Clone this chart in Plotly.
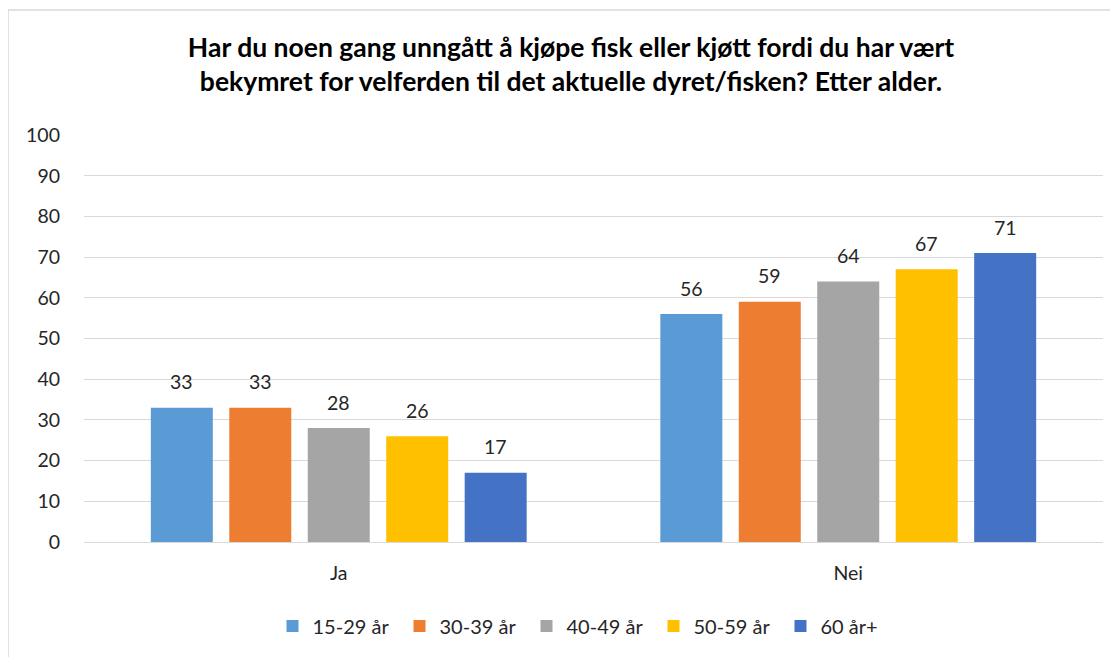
import plotly.graph_objects as go

categories = ["Ja", "Nei"]
series_names = ["15-29 år", "30-39 år", "40-49 år", "50-59 år", "60 år+"]
values_15_29 = [33, 56]
values_30_39 = [33, 59]
values_40_49 = [28, 64]
values_50_59 = [26, 67]
values_60_plus = [17, 71]
series_values = [values_15_29, values_30_39, values_40_49, values_50_59, values_60_plus]
colors = ["#5B9BD5", "#ED7D31", "#A5A5A5", "#FFC000", "#4472C4"]
y_ticks = [0, 10, 20, 30, 40, 50, 60, 70, 80, 90, 100]

title_line1 = "Har du noen gang unngått å kjøpe fisk eller kjøtt fordi du har vært"
title_line2 = "bekymret for velferden til det aktuelle dyret/fisken? Etter alder."

# page has an 8px body margin; figure coordinates = page - 8
OFF = 8
W, H = 1110, 649
ML, MR, MT, MB = 84 - OFF, 15, 135 - OFF, 115
BARGAP = 0.23
BARGROUPGAP = 0.21
FONT = "Lato"
TXT = "#262626"
GRID = "#d9d9d9"

fig = go.Figure()
for name, vals, col in zip(series_names, series_values, colors):
    fig.add_trace(go.Bar(
        name=name, x=categories, y=vals,
        marker=dict(color=col, line=dict(width=0)),
        hoverinfo="x+y+name",
    ))

plot_w = W - ML - MR
plot_h = H - MT - MB
slot = plot_w / len(categories) * (1 - BARGAP) / len(series_names)
annotations = []
n = len(series_names)
for i, vals in enumerate(series_values):
    for c, v in zip(categories, vals):
        annotations.append(dict(
            x=c, y=v, xref="x", yref="y", text=str(v), showarrow=False,
            xshift=(i - (n - 1) / 2) * slot, yshift=26, yanchor="middle",
            font=dict(family=FONT, size=19.5, color=TXT),
        ))

def px_to_paper_x(px):  # page px
    return (px - OFF - ML) / plot_w
def px_to_paper_y(py):  # page px
    return (H - MB - (py - OFF)) / plot_h

border_left = px_to_paper_x(8)
border_top = px_to_paper_y(10)
shapes = [
    dict(type="line", xref="paper", yref="paper", x0=border_left, x1=border_left,
         y0=px_to_paper_y(H + 20), y1=border_top, line=dict(color=GRID, width=1.5)),
    dict(type="line", xref="paper", yref="paper", x0=border_left, x1=px_to_paper_x(W + 20),
         y0=border_top, y1=border_top, line=dict(color=GRID, width=1.5)),
]

fig.update_layout(
    width=W, height=H,
    margin=dict(l=ML, r=MR, t=MT, b=MB),
    paper_bgcolor="white", plot_bgcolor="white",
    barmode="group", bargap=BARGAP, bargroupgap=BARGROUPGAP,
    title=dict(
        text="<b>" + title_line1 + "<br>" + title_line2 + "</b>",
        x=px_to_paper_x(571), xref="paper", xanchor="center",
        y=1 - 49 / H, yref="container", yanchor="middle",
        font=dict(family=FONT, size=26.5, color="#000000"),
    ),
    font=dict(family=FONT, size=19.5, color=TXT),
    xaxis=dict(showgrid=False, showline=False, ticks="", ticklabelstandoff=17,
               tickfont=dict(family=FONT, size=19.5, color=TXT), fixedrange=True),
    yaxis=dict(range=[0, 100], tickvals=y_ticks, showgrid=True, gridcolor=GRID, gridwidth=1.3,
               zeroline=True, zerolinecolor=GRID, zerolinewidth=1.3, showline=False, ticks="",
               ticklabelstandoff=23, tickfont=dict(family=FONT, size=19.5, color=TXT), fixedrange=True),
    legend=dict(orientation="h", x=px_to_paper_x(590), xanchor="center", y=px_to_paper_y(626),
                yanchor="middle", font=dict(family=FONT, size=20, color=TXT),
                itemwidth=30, entrywidth=82, entrywidthmode="pixels", traceorder="normal"),
    annotations=annotations,
    shapes=shapes,
)

fig.write_html("out.html")
